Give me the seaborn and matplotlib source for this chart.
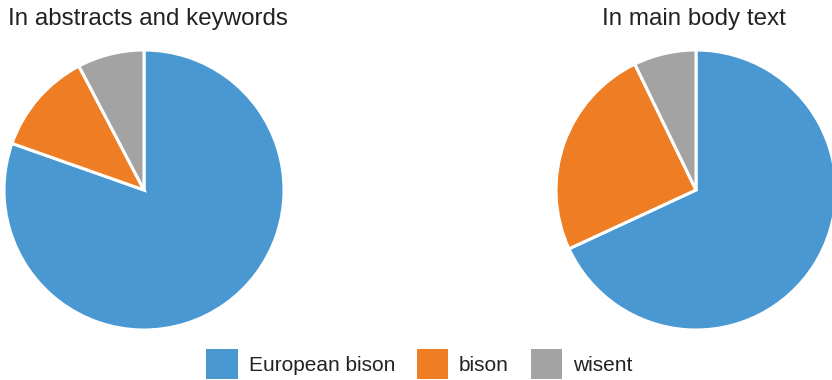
import matplotlib
matplotlib.use("Agg")
import matplotlib.pyplot as plt
import seaborn as sns
from matplotlib.patches import Patch

categories = ["European bison", "bison", "wisent"]
abstracts_values = [80.4, 11.9, 7.7]
body_values = [68.1, 24.7, 7.2]
titles = ["In abstracts and keywords", "In main body text"]
colors = ["#4A98D1", "#EE7D24", "#A3A3A3"]

sns.set_theme(style="white")
plt.rcParams["font.family"] = ["Liberation Sans", "DejaVu Sans"]

W, H = 832, 380
fig = plt.figure(figsize=(W / 100, H / 100), dpi=100)

def px_axes(cx, cy, r):
    return fig.add_axes([(cx - r) / W, (H - cy - r) / H, 2 * r / W, 2 * r / H])

for (cx, tx, vals, title) in [(144, 148, abstracts_values, titles[0]),
                              (696, 694, body_values, titles[1])]:
    ax = px_axes(cx, 190, 140)
    ax.pie(vals, colors=colors, startangle=90, counterclock=False,
           wedgeprops=dict(edgecolor="white", linewidth=2.2))
    ax.set_aspect("equal")
    ax.set_xlim(-1, 1)
    ax.set_ylim(-1, 1)
    fig.text(tx / W, 1 - 25 / H, title, ha="center", va="baseline",
             fontsize=17.4, color="#222222")

handles = [Patch(facecolor=c, edgecolor="none") for c in colors]
fig.legend(handles, categories, loc="center", ncol=3, frameon=False,
           bbox_to_anchor=(419.5 / W, 1 - 364 / H), fontsize=15,
           handlelength=1.49, handleheight=1.84, handletextpad=0.53,
           columnspacing=1.06, borderpad=0, labelcolor="#222222")

fig.savefig("out.png", dpi=100)
